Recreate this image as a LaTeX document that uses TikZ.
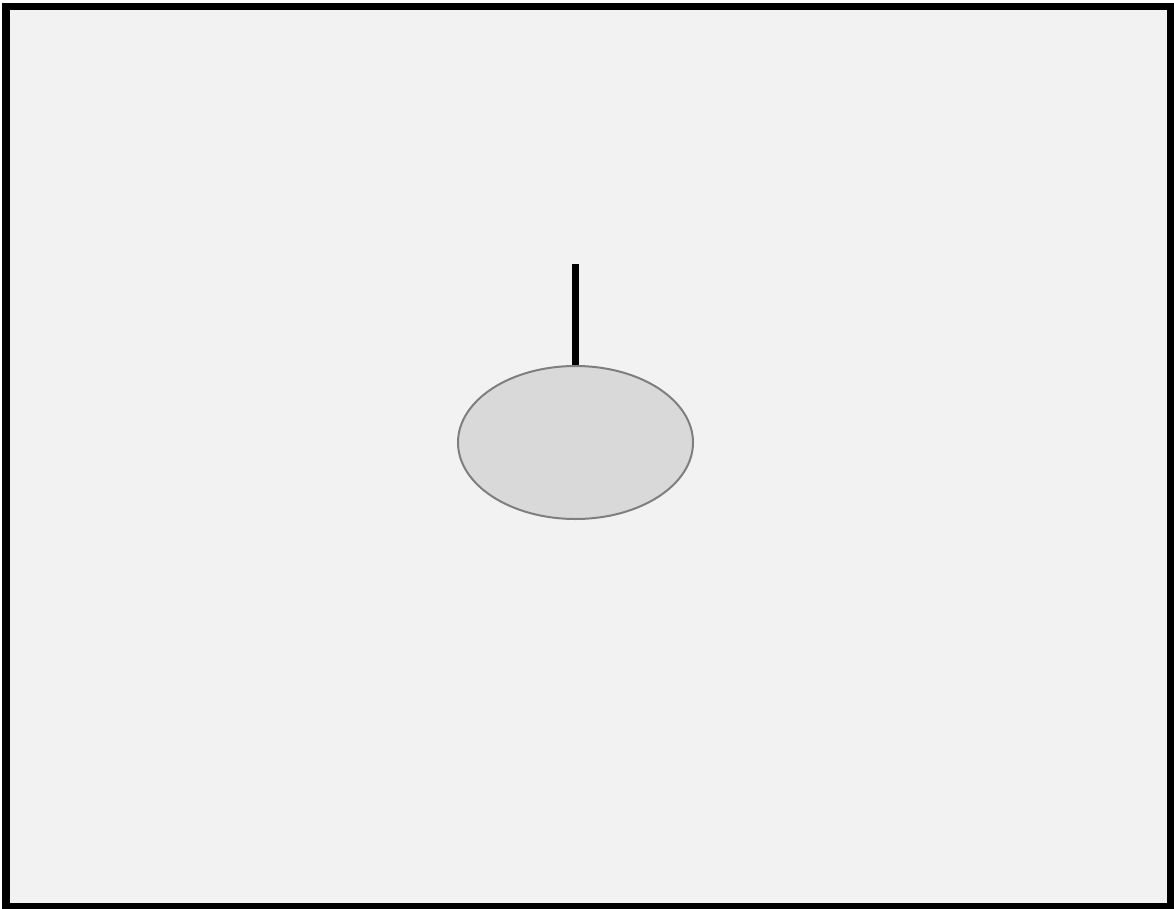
\documentclass[tikz,border=0pt]{standalone}
\usetikzlibrary{shapes.geometric}
\definecolor{bgfill}{HTML}{F2F2F2}
\definecolor{ellfill}{HTML}{D9D9D9}
\definecolor{ellline}{HTML}{7F7F7F}
\tikzset{
  frame/.style={draw=black, line width=7.5pt, fill=bgfill},
  body/.style={ellipse, draw=ellline, line width=2pt, fill=ellfill, minimum width=235pt, minimum height=153pt, inner sep=0pt},
  stem/.style={draw=black, line width=7pt}
}
\begin{document}
\begin{tikzpicture}[x=1pt,y=-1pt]
\useasboundingbox (0,0) rectangle (1174,909);
\draw[frame] (6,6.5) rectangle (1170.5,906.5);
\node[body] (ell) at (575.5,442.5) {};
\coordinate (top) at (575.5,264);
\draw[stem] (top) -- (ell.north);
\end{tikzpicture}
\end{document}
